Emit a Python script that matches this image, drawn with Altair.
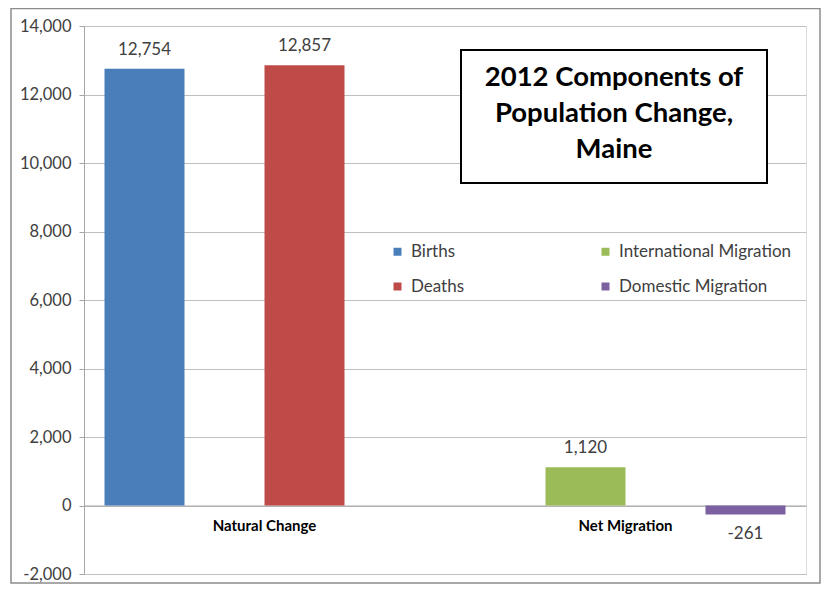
import altair as alt
import pandas as pd

groups = ["Natural Change", "Natural Change", "Net Migration", "Net Migration"]
series = ["Births", "Deaths", "International Migration", "Domestic Migration"]
values = [12754, 12857, 1120, -261]
slot_order = ["Births", "International Migration", "Deaths", "Domestic Migration"]
legend_order = ["Births", "Deaths", "International Migration", "Domestic Migration"]
colors = ["#4A7EBB", "#BE4B48", "#9BBB59", "#7D60A0"]
group_order = ["Natural Change", "Net Migration"]
y_ticks = [-2000, 0, 2000, 4000, 6000, 8000, 10000, 12000, 14000]
title_lines = "2012 Components of\nPopulation Change,\nMaine"

df = pd.DataFrame({"group": groups, "series": series, "value": values})
one = pd.DataFrame({"t": [title_lines]})

W, H = 722, 548
FONT = "Lato"
TXT = "#404040"
NUMFMT = "(datum.value < 0 ? '-' : '') + format(abs(datum.value), ',')"

x_enc = alt.X("group:N", sort=group_order,
              scale=alt.Scale(paddingInner=0.1136, paddingOuter=0.0568),
              axis=alt.Axis(title=None, offset=-68.5, labelAngle=0, ticks=False,
                            domainColor="#a6a6a6", labelFont=FONT, labelFontSize=15,
                            labelFontWeight="bold", labelColor="#000000", labelPadding=13))
xo_enc = alt.XOffset("series:N", sort=slot_order,
                     scale=alt.Scale(domain=slot_order, paddingInner=0, paddingOuter=0))
y_enc = alt.Y("value:Q", scale=alt.Scale(domain=[-2000, 14000], nice=False),
              axis=alt.Axis(title=None, values=y_ticks, labelExpr=NUMFMT, labelFont=FONT,
                            labelFontSize=16.5, labelColor=TXT, tickSize=5, tickColor="#a6a6a6",
                            domainColor="#a6a6a6", gridColor="#c0c0c0", labelPadding=8))

border = alt.Chart(one).mark_rect(fill=None, stroke="#8c8c8c", strokeWidth=1.5).encode(
    x=alt.value(-73), x2=alt.value(736), y=alt.value(-17.5), y2=alt.value(557))

bars = alt.Chart(df).mark_bar().encode(
    x=x_enc, xOffset=xo_enc, y=y_enc,
    color=alt.Color("series:N", scale=alt.Scale(domain=legend_order, range=colors),
                    legend=alt.Legend(orient="none", legendX=305, legendY=217, columns=2,
                                      title=None, symbolType="square", symbolSize=64,
                                      symbolStrokeWidth=0, labelFont=FONT, labelFontSize=17,
                                      labelColor=TXT, rowPadding=17, columnPadding=132,
                                      labelOffset=5, labelLimit=400, padding=0)))

base_lbl = alt.Chart(df).transform_calculate(lbl=NUMFMT)

pos_labels = base_lbl.transform_filter("datum.value >= 0").mark_text(
    dy=-19, font=FONT, fontSize=17, color=TXT, baseline="middle").encode(
    x=alt.X("group:N", sort=group_order), xOffset=alt.XOffset("series:N", sort=slot_order),
    y="value:Q", text="lbl:N")

neg_labels = base_lbl.transform_filter("datum.value < 0").mark_text(
    dy=20, font=FONT, fontSize=17, color=TXT, baseline="middle").encode(
    x=alt.X("group:N", sort=group_order), xOffset=alt.XOffset("series:N", sort=slot_order),
    y="value:Q", text="lbl:N")

box = alt.Chart(one).mark_rect(fill="white", stroke="black", strokeWidth=2).encode(
    x=alt.value(377), x2=alt.value(683), y=alt.value(24), y2=alt.value(157))

title = alt.Chart(one).mark_text(font=FONT, fontSize=27.5, fontWeight="bold", color="black",
                                 lineBreak="\n", lineHeight=36, align="center",
                                 baseline="middle").encode(
    x=alt.value(530), y=alt.value(52), text="t:N")

chart = alt.layer(border, bars, pos_labels, neg_labels, box, title).properties(
    width=W, height=H,
    autosize=alt.AutoSizeParams(type="none"),
    padding={"left": 76, "top": 18, "right": 15, "bottom": 10},
).configure_view(stroke=None).configure(background="white")

chart.save("out.html", embed_options={"renderer": "svg", "actions": False})
